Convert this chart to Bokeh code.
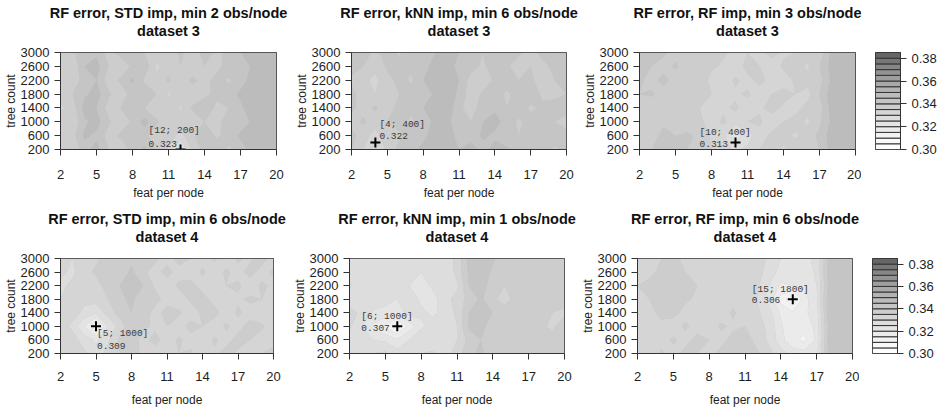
import numpy as np
from bokeh.plotting import figure
from bokeh.layouts import row, column
from bokeh.models import Range1d, FixedTicker, PrintfTickFormatter, Title
from bokeh.core.properties import value
from bokeh.embed import file_html
from bokeh.resources import INLINE

# ---------------- data ----------------
feat = [2, 3, 4, 5, 6, 7, 8, 9, 10, 11, 12, 13, 14, 15, 16, 17, 18, 19, 20]
trees = [200, 600, 1000, 1400, 1800, 2200, 2600, 3000]
x_ticks = [2, 5, 8, 11, 14, 17, 20]
y_ticks = [200, 600, 1000, 1400, 1800, 2200, 2600, 3000]
levels = [0.300, 0.305, 0.310, 0.315, 0.320, 0.325, 0.330, 0.335, 0.340,
          0.345, 0.350, 0.355, 0.360, 0.365, 0.370, 0.375, 0.380, 0.385]
cbar_ticks = [0.30, 0.32, 0.34, 0.36, 0.38]

title_line1 = [
    "RF error, STD imp, min 2 obs/node",
    "RF error, kNN imp, min 6 obs/node",
    "RF error, RF imp, min 3 obs/node",
    "RF error, STD imp, min 6 obs/node",
    "RF error, kNN imp, min 1 obs/node",
    "RF error, RF imp, min 6 obs/node",
]
title_line2 = ["dataset 3", "dataset 3", "dataset 3",
               "dataset 4", "dataset 4", "dataset 4"]
best_feat = [12, 4, 10, 5, 6, 15]
best_trees = [200, 400, 400, 1000, 1000, 1800]
best_err = [0.323, 0.322, 0.313, 0.309, 0.307, 0.306]

# rows: tree count 200 .. 3000 ; columns: feat per node 2 .. 20
err_std_d3 = [
    [.337, .335, .343, .347, .340, .336, .342, .346, .339, .334, .323, .336, .342, .344, .339, .343, .347, .349, .346],
    [.335, .338, .346, .344, .338, .341, .344, .342, .336, .338, .333, .339, .344, .339, .342, .346, .348, .346, .347],
    [.338, .336, .344, .347, .341, .336, .341, .347, .341, .335, .339, .336, .340, .337, .344, .342, .346, .349, .346],
    [.334, .337, .347, .345, .338, .340, .345, .340, .336, .340, .334, .341, .343, .339, .340, .344, .348, .345, .348],
    [.337, .340, .344, .347, .341, .337, .342, .344, .340, .334, .338, .336, .339, .341, .343, .346, .345, .348, .346],
    [.335, .337, .342, .345, .337, .341, .346, .339, .336, .341, .335, .342, .337, .343, .339, .343, .347, .350, .347],
    [.338, .336, .345, .347, .340, .336, .341, .344, .334, .338, .340, .335, .340, .337, .344, .341, .346, .347, .349],
    [.336, .339, .343, .344, .338, .342, .344, .340, .338, .336, .341, .337, .342, .339, .341, .345, .347, .348, .346],
]
err_knn_d3 = [
    [.340, .335, .330, .336, .342, .344, .346, .348, .347, .345, .348, .343, .347, .346, .343, .340, .343, .339, .341],
    [.342, .337, .333, .339, .339, .343, .344, .347, .348, .343, .342, .346, .344, .341, .340, .344, .340, .343, .341],
    [.338, .341, .337, .340, .342, .339, .343, .346, .347, .341, .340, .345, .347, .343, .339, .342, .344, .340, .339],
    [.341, .338, .341, .336, .343, .341, .345, .347, .349, .341, .338, .342, .344, .340, .343, .339, .341, .343, .341],
    [.342, .337, .335, .339, .340, .343, .342, .346, .348, .344, .337, .341, .343, .339, .342, .343, .339, .338, .340],
    [.339, .336, .334, .338, .342, .339, .345, .348, .346, .345, .338, .336, .341, .343, .340, .342, .335, .340, .342],
    [.342, .340, .336, .341, .343, .341, .343, .347, .348, .343, .342, .339, .343, .341, .337, .340, .338, .342, .340],
    [.340, .342, .339, .342, .339, .343, .345, .345, .347, .345, .342, .340, .341, .343, .341, .338, .342, .340, .341],
]
err_rf_d3 = [
    [.338, .340, .341, .342, .340, .338, .335, .332, .329, .331, .335, .337, .334, .338, .336, .340, .347, .348, .346],
    [.340, .337, .342, .340, .341, .339, .334, .331, .322, .328, .333, .336, .337, .334, .338, .341, .348, .346, .347],
    [.336, .340, .339, .338, .337, .336, .333, .336, .332, .335, .336, .332, .335, .337, .334, .339, .346, .348, .346],
    [.339, .336, .340, .337, .338, .335, .332, .334, .336, .332, .334, .337, .334, .333, .337, .338, .347, .349, .347],
    [.340, .341, .337, .338, .340, .336, .335, .331, .334, .336, .332, .335, .337, .335, .333, .340, .348, .346, .345],
    [.341, .338, .342, .337, .336, .339, .333, .332, .336, .333, .337, .333, .332, .336, .337, .338, .346, .347, .346],
    [.342, .340, .338, .341, .337, .335, .336, .334, .332, .337, .335, .332, .336, .337, .334, .340, .347, .346, .348],
    [.340, .342, .341, .338, .336, .339, .335, .336, .333, .335, .333, .337, .334, .335, .338, .337, .346, .348, .346],
]
err_std_d4 = [
    [.333, .330, .331, .327, .332, .335, .337, .334, .332, .331, .335, .336, .332, .334, .337, .334, .332, .335, .336],
    [.335, .332, .328, .324, .329, .336, .338, .333, .337, .332, .336, .333, .331, .336, .333, .337, .335, .332, .334],
    [.332, .329, .320, .309, .325, .332, .339, .336, .334, .335, .332, .337, .335, .332, .336, .333, .337, .336, .332],
    [.331, .332, .329, .326, .332, .337, .340, .338, .333, .337, .336, .332, .336, .337, .332, .336, .333, .331, .335],
    [.330, .334, .331, .332, .335, .339, .341, .337, .337, .333, .332, .336, .337, .333, .331, .334, .336, .335, .332],
    [.329, .331, .335, .333, .337, .340, .342, .340, .334, .332, .336, .337, .333, .330, .335, .336, .332, .336, .334],
    [.331, .329, .333, .336, .338, .337, .341, .336, .333, .337, .333, .332, .336, .332, .336, .333, .337, .333, .336],
    [.332, .330, .331, .334, .337, .338, .339, .338, .336, .333, .337, .335, .333, .336, .332, .336, .334, .337, .333],
]
err_knn_d4 = [
    [.330, .327, .330, .331, .327, .326, .330, .331, .328, .332, .339, .341, .337, .338, .340, .337, .338, .335, .337],
    [.328, .326, .325, .324, .321, .325, .329, .326, .329, .330, .337, .340, .338, .336, .335, .338, .339, .337, .335],
    [.331, .325, .319, .314, .307, .317, .324, .327, .326, .330, .341, .342, .337, .335, .338, .340, .336, .334, .338],
    [.332, .329, .324, .323, .322, .327, .326, .324, .327, .331, .340, .343, .340, .338, .337, .335, .339, .335, .334],
    [.327, .326, .330, .327, .325, .328, .324, .323, .328, .332, .337, .341, .336, .333, .337, .339, .336, .338, .337],
    [.331, .325, .327, .326, .329, .325, .323, .326, .327, .329, .340, .342, .338, .335, .336, .335, .340, .337, .339],
    [.328, .329, .326, .330, .326, .329, .325, .328, .325, .332, .341, .343, .339, .338, .339, .337, .335, .339, .336],
    [.330, .328, .329, .326, .330, .326, .329, .326, .328, .331, .342, .344, .341, .337, .336, .339, .338, .335, .338],
]
err_rf_d4 = [
    [.334, .332, .336, .333, .337, .335, .333, .337, .338, .339, .336, .332, .327, .323, .322, .324, .341, .344, .342],
    [.332, .335, .333, .336, .333, .337, .335, .333, .337, .338, .333, .329, .322, .316, .314, .321, .342, .342, .344],
    [.335, .331, .334, .332, .336, .333, .332, .336, .334, .335, .332, .329, .321, .315, .316, .322, .341, .344, .342],
    [.331, .334, .336, .337, .333, .332, .335, .332, .336, .332, .331, .327, .319, .316, .319, .323, .343, .342, .341],
    [.333, .335, .337, .339, .336, .334, .332, .335, .333, .331, .330, .323, .313, .306, .318, .324, .343, .341, .343],
    [.335, .336, .338, .340, .338, .335, .333, .331, .334, .335, .331, .325, .319, .320, .321, .325, .341, .343, .342],
    [.332, .334, .336, .338, .335, .333, .334, .335, .331, .333, .332, .328, .323, .322, .322, .326, .342, .343, .341],
    [.334, .332, .335, .336, .334, .333, .335, .332, .334, .331, .333, .329, .325, .323, .324, .326, .341, .342, .344],
]
errors = [err_std_d3, err_knn_d3, err_rf_d3, err_std_d4, err_knn_d4, err_rf_d4]

# ---------------- style ----------------
n_bands = len(levels) - 1
palette = []
for b in range(n_bands):
    t = b / (n_bands - 1)
    g = (1.0 - t * (1.0 - 0.4 ** 2.2)) ** (1 / 2.2)
    c = int(round(255 * g))
    palette.append("#%02x%02x%02x" % (c, c, c))

FONT = "Liberation Sans"
TXT = "#1e1e1e"
FRAME_W = 221
# per-row geometry: (top border, frame height, bottom border,
#                    x tick-label standoff, x axis-label standoff)
row_geo = [(52, 97, 55, 14, 4), (54, 97, 54, 12, 9)]
# per-panel horizontal borders (left, right)
col_geo = [[(55, 15), (54, 13), (55, 6)], [(52, 16), (54, 13), (54, 7)]]
cbar_geo = [(14, 36), (13, 36)]
# label offsets in pixels: (dx, dy line 1, dy line 2)
lab_off = [(-32, -19, -6), (4, -18, -7), (-36, -10, 1),
           (1, 7, 20), (-36, -10, 2), (-41, -10, 1)]


def style_axes(p):
    for ax in (p.xaxis[0], p.yaxis[0]):
        ax.axis_line_color = "#333333"
        ax.major_tick_line_color = "#333333"
        ax.minor_tick_line_color = None
        ax.major_tick_in = 0
        ax.major_tick_out = 6
        ax.major_label_text_font = FONT
        ax.major_label_text_font_size = "13px"
        ax.major_label_text_color = TXT
        ax.axis_label_text_font = FONT
        ax.axis_label_text_font_size = "12px"
        ax.axis_label_text_font_style = "normal"
        ax.axis_label_text_color = TXT


def make_panel(i, r, c):
    top, fh, bot, xts, xls = row_geo[r]
    bl, br = col_geo[r][c]
    p = figure(width=bl + FRAME_W + br, height=top + fh + bot,
               output_backend="svg", toolbar_location=None,
               x_range=Range1d(feat[0], feat[-1]),
               y_range=Range1d(trees[0], trees[-1]),
               min_border_left=bl, min_border_right=br,
               min_border_top=top, min_border_bottom=bot)
    # added above-panels stack outward from the frame in the order added;
    # the figure's own title (line 1) is outermost
    p.title.text = title_line1[i]
    spacer = Title(text=" ", text_font_size="1px", standoff=11)
    p.add_layout(spacer, "above")
    t2 = Title(text=title_line2[i])
    for t in (p.title, t2):
        t.align = "center"
        t.text_font = FONT
        t.text_font_size = "14.5px"
        t.text_font_style = "bold"
        t.text_color = "#111111"
        t.standoff = 0
    p.add_layout(t2, "above")
    p.xgrid.visible = False
    p.ygrid.visible = False
    p.outline_line_color = "#333333"
    p.background_fill_color = "#c4c4c4"
    z = np.array(errors[i])
    cr = p.contour(x=feat, y=trees, z=z, levels=levels, fill_color=palette,
                   line_color=None)
    try:
        cr.fill_renderer.glyph.line_color = cr.fill_renderer.glyph.fill_color
        cr.fill_renderer.glyph.line_width = 0.6
    except Exception:
        pass
    bx, by, be = best_feat[i], best_trees[i], best_err[i]
    dx, dy1, dy2 = lab_off[i]
    p.scatter(x=[bx], y=[by], marker="cross", size=10, line_width=2,
              line_color="black")
    for txt, dy in (("[%d; %d]" % (bx, by), dy1), ("%.3f" % be, dy2)):
        p.text(x=[bx], y=[by], text=[txt], x_offset=dx, y_offset=dy,
               text_font=value("Liberation Mono"), text_font_size="9.5px",
               text_color="#3a3a3a", text_baseline="middle",
               text_align="left")
    p.xaxis.ticker = FixedTicker(ticks=x_ticks)
    p.yaxis.ticker = FixedTicker(ticks=y_ticks)
    p.xaxis.axis_label = "feat per node"
    p.yaxis.axis_label = "tree count"
    style_axes(p)
    p.xaxis.major_label_standoff = xts
    p.xaxis.axis_label_standoff = xls
    p.yaxis.major_label_standoff = 5
    p.yaxis.axis_label_standoff = 0
    p.yaxis.major_label_orientation = "horizontal"
    return p


def make_cbar(r):
    top, fh, bot, _, _ = row_geo[r]
    bl, br = cbar_geo[r]
    p = figure(width=bl + 28 + br, height=top + fh + bot,
               output_backend="svg", toolbar_location=None,
               x_range=Range1d(0, 1),
               y_range=Range1d(levels[0], levels[-1]), y_axis_location="right",
               min_border_left=bl, min_border_right=br,
               min_border_top=top, min_border_bottom=bot)
    p.xgrid.visible = False
    p.ygrid.visible = False
    p.outline_line_color = "#333333"
    p.quad(left=0, right=1, bottom=levels[:-1], top=levels[1:],
           fill_color=palette, line_color="#333333", line_width=1)
    p.xaxis.visible = False
    p.yaxis.ticker = FixedTicker(ticks=cbar_ticks)
    p.yaxis.formatter = PrintfTickFormatter(format="%.2f")
    style_axes(p)
    p.yaxis.major_label_standoff = 5
    return p


rows = []
for r in range(2):
    figs = [make_panel(r * 3 + c, r, c) for c in range(3)]
    figs.append(make_cbar(r))
    rows.append(row(*figs, spacing=0))
layout = column(*rows, spacing=0)

open("out.html", "w").write(file_html(layout, INLINE))
